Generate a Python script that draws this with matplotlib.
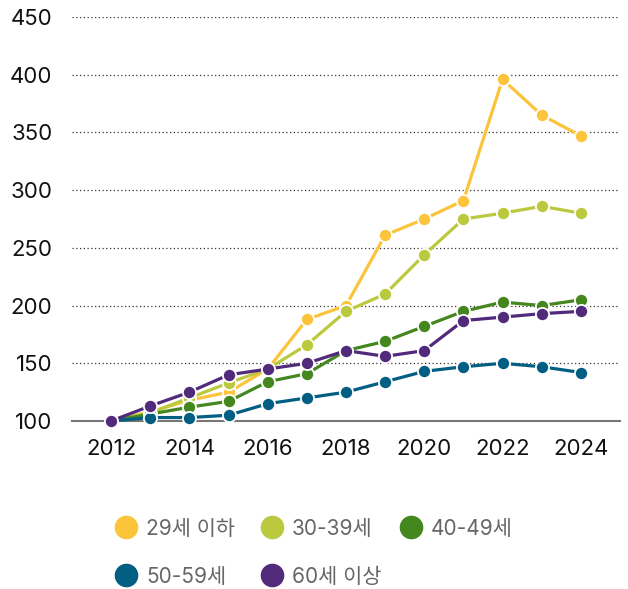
import matplotlib
matplotlib.use("Agg")
import matplotlib.pyplot as plt
from matplotlib.lines import Line2D

plt.rcParams['font.family'] = ['Inter', 'Noto Sans CJK KR', 'DejaVu Sans']

years = list(range(2012, 2025))
series_names = ["29세 이하", "30-39세", "40-49세", "50-59세", "60세 이상"]
s_29 = [100, 108, 118, 125, 145, 188, 200, 261, 275, 291, 396, 365, 347]
s_30 = [100, 107, 120, 133, 145, 166, 195, 210, 244, 275, 280, 286, 280]
s_40 = [100, 106, 112, 117, 134, 141, 161, 169, 182, 195, 203, 200, 205]
s_50 = [100, 103, 103, 105, 115, 120, 125, 134, 143, 147, 150, 147, 142]
s_60 = [100, 113, 125, 140, 145, 150, 161, 156, 161, 187, 190, 193, 195]
colors = ["#FBC43B", "#BBC93E", "#44871F", "#035E83", "#522A7C"]
yticks = [100, 150, 200, 250, 300, 350, 400, 450]
xticks = [2012, 2014, 2016, 2018, 2020, 2022, 2024]

W, H = 628, 589
fig = plt.figure(figsize=(W/100, H/100), dpi=100)
ax = fig.add_axes([72/W, 1-421/H, 548/W, 404/H])

for name, vals, c in zip(series_names, [s_29, s_30, s_40, s_50, s_60], colors):
    ax.plot(years, vals, color=c, lw=2.3, marker='o', ms=9.5,
            mfc=c, mec='white', mew=1.3, clip_on=False, zorder=3, label=name)

ax.set_xlim(2011, 2025)
ax.set_ylim(100, 450)
ax.set_yticks(yticks)
ax.set_xticks(xticks)
ax.tick_params(axis='both', length=0, labelsize=16, colors='#111111')
ax.tick_params(axis='y', pad=14)
ax.tick_params(axis='x', pad=13)

for sp in ['left', 'right', 'top']:
    ax.spines[sp].set_visible(False)
ax.spines['bottom'].set_color('#777777')
ax.spines['bottom'].set_linewidth(1.5)
ax.spines['bottom'].set_zorder(2)
ax.grid(axis='y', linestyle=(0, (1, 2)), color='#333333', lw=0.9)
ax.set_axisbelow(True)

# legend entries (manual placement, two rows)
legend_pos = [(126, 527), (272, 527), (411, 527), (126, 575), (272, 575)]
for (px, py), name, c in zip(legend_pos, series_names, colors):
    fx, fy = px / W, 1 - py / H
    fig.add_artist(Line2D([fx], [fy], transform=fig.transFigure, ls='none',
                          marker='o', ms=16, mfc=c, mec=c))
    fig.text(fx + 20 / W, fy, name, ha='left', va='center_baseline',
             fontsize=15, color='#666666')

fig.savefig("out.png", dpi=100)
